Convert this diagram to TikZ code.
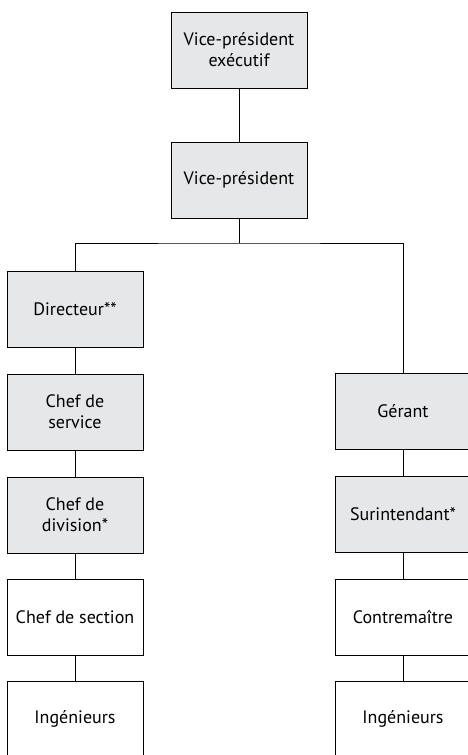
\documentclass[tikz,border=0pt]{standalone}
\usepackage{fontspec}
\setmainfont{PT Sans}
\usepackage{xcolor}
\usetikzlibrary{positioning}

\definecolor{boxgray}{HTML}{E6E7E8}

\tikzset{
    post/.style={draw=black, line width=1pt, minimum width=136pt, minimum height=76pt,
        align=center, inner sep=2pt, font=\fontsize{18}{21}\selectfont},
    cadre/.style={post, fill=boxgray},
    link/.style={line width=1pt}
}

\begin{document}
\begin{tikzpicture}[x=1pt, y=-1pt]
    \useasboundingbox (0,0) rectangle (468,755);
    \clip (0,0) rectangle (468,755);

    % Top of the chart
    \node[cadre] (vpe) at (239,50) {Vice-président\\exécutif};
    \node[cadre] (vp) at (239,180) {Vice-président};

    % Left branch
    \node[cadre] (dir) at (75,309) {Directeur**};
    \node[cadre] (chserv) at (75,412) {Chef de\\service};
    \node[cadre] (chdiv) at (75,515) {Chef de\\division*};
    \node[post] (chsect) at (75,617) {Chef de section};
    \node[post] (ingL) at (75,719) {Ingénieurs};

    % Right branch
    \node[cadre] (gerant) at (403,411) {Gérant};
    \node[cadre] (surint) at (403,514) {Surintendant*};
    \node[post] (contre) at (403,617) {Contremaître};
    \node[post] (ingR) at (403,719) {Ingénieurs};

    % Connectors
    \coordinate (bus) at (239,243);
    \draw[link] (vpe) -- (vp);
    \draw[link] (vp) -- (bus);
    \draw[link] (dir.north) |- (bus) -| (gerant.north);
    \draw[link] (dir) -- (chserv);
    \draw[link] (chserv) -- (chdiv);
    \draw[link] (chdiv) -- (chsect);
    \draw[link] (chsect) -- (ingL);
    \draw[link] (gerant) -- (surint);
    \draw[link] (surint) -- (contre);
    \draw[link] (contre) -- (ingR);
\end{tikzpicture}
\end{document}
